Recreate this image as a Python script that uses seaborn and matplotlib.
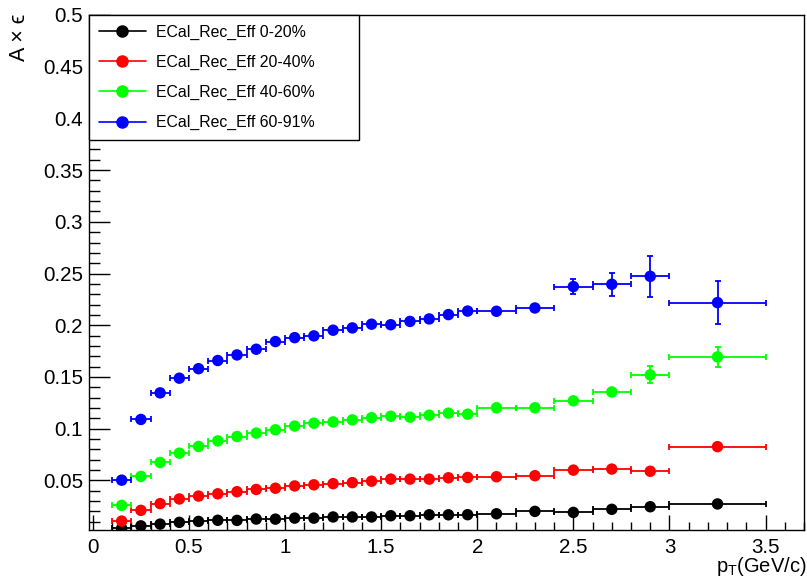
import matplotlib
matplotlib.use("Agg")
import matplotlib.pyplot as plt
from matplotlib.ticker import FixedLocator, FixedFormatter, MultipleLocator
from matplotlib.lines import Line2D
import pandas as pd
import seaborn as sns

# ---------------- data ----------------
pt_center = [0.15, 0.25, 0.35, 0.45, 0.55, 0.65, 0.75, 0.85, 0.95, 1.05,
             1.15, 1.25, 1.35, 1.45, 1.55, 1.65, 1.75, 1.85, 1.95,
             2.1, 2.3, 2.5, 2.7, 2.9, 3.25]
pt_halfwidth = [0.05, 0.05, 0.05, 0.05, 0.05, 0.05, 0.05, 0.05, 0.05, 0.05,
                0.05, 0.05, 0.05, 0.05, 0.05, 0.05, 0.05, 0.05, 0.05,
                0.1, 0.1, 0.1, 0.1, 0.1, 0.25]

eff_0_20 = [0.0036, 0.0060, 0.0077, 0.0094, 0.0103, 0.0114, 0.0113, 0.0126, 0.0125, 0.0135,
            0.0135, 0.0146, 0.0146, 0.0146, 0.0158, 0.0158, 0.0167, 0.0167, 0.0168,
            0.0177, 0.0200, 0.0190, 0.0220, 0.0245, 0.0272]
err_0_20 = [0.0005, 0.0005, 0.0005, 0.0005, 0.0005, 0.0005, 0.0005, 0.0005, 0.0005, 0.0005,
            0.0005, 0.0005, 0.0005, 0.0005, 0.0005, 0.0005, 0.0005, 0.0005, 0.0005,
            0.0006, 0.0008, 0.0010, 0.0012, 0.0015, 0.0020]

eff_20_40 = [0.0106, 0.0210, 0.0275, 0.0320, 0.0348, 0.0370, 0.0390, 0.0412, 0.0424, 0.0446,
             0.0457, 0.0468, 0.0478, 0.0492, 0.0512, 0.0512, 0.0512, 0.0525, 0.0528,
             0.0535, 0.0545, 0.0599, 0.0609, 0.0588, 0.0826]
err_20_40 = [0.0006, 0.0006, 0.0006, 0.0006, 0.0006, 0.0006, 0.0006, 0.0006, 0.0006, 0.0006,
             0.0006, 0.0006, 0.0006, 0.0006, 0.0006, 0.0006, 0.0006, 0.0006, 0.0006,
             0.0008, 0.0010, 0.0012, 0.0015, 0.0020, 0.0030]

eff_40_60 = [0.0258, 0.0538, 0.0673, 0.0763, 0.0828, 0.0882, 0.0924, 0.0957, 0.0989, 0.1025,
             0.1053, 0.1065, 0.1085, 0.1106, 0.1120, 0.1111, 0.1130, 0.1150, 0.1140,
             0.1202, 0.1202, 0.1269, 0.1355, 0.1520, 0.1694]
err_40_60 = [0.0008, 0.0008, 0.0008, 0.0008, 0.0008, 0.0008, 0.0008, 0.0008, 0.0008, 0.0008,
             0.0008, 0.0008, 0.0008, 0.0008, 0.0008, 0.0008, 0.0008, 0.0008, 0.0008,
             0.0015, 0.0015, 0.0020, 0.0035, 0.0082, 0.0098]

eff_60_91 = [0.0502, 0.1089, 0.1346, 0.1488, 0.1580, 0.1659, 0.1713, 0.1768, 0.1842, 0.1880,
             0.1897, 0.1952, 0.1974, 0.2010, 0.2005, 0.2037, 0.2061, 0.2103, 0.2137,
             0.2135, 0.2167, 0.2374, 0.2396, 0.2473, 0.2219]
err_60_91 = [0.0010, 0.0010, 0.0010, 0.0010, 0.0010, 0.0010, 0.0010, 0.0010, 0.0010, 0.0010,
             0.0010, 0.0010, 0.0010, 0.0010, 0.0010, 0.0010, 0.0010, 0.0010, 0.0010,
             0.0015, 0.0030, 0.0071, 0.0111, 0.0201, 0.0208]

series_labels = ["ECal_Rec_Eff 0-20%", "ECal_Rec_Eff 20-40%",
                 "ECal_Rec_Eff 40-60%", "ECal_Rec_Eff 60-91%"]
series_colors = ["#000000", "#ff0000", "#00ff00", "#0000ff"]

x_ticks = [0, 0.5, 1, 1.5, 2, 2.5, 3, 3.5]
x_tick_labels = ["0", "0.5", "1", "1.5", "2", "2.5", "3", "3.5"]
y_ticks = [0.05, 0.1, 0.15, 0.2, 0.25, 0.3, 0.35, 0.4, 0.45, 0.5]
y_tick_labels = ["0.05", "0.1", "0.15", "0.2", "0.25", "0.3", "0.35", "0.4", "0.45", "0.5"]

x_title = r"p$_{\mathregular{T}}$(GeV/c)"
y_title = "A \u00d7 \u03f5"

# ---------------- style ----------------
sns.set_theme(style="white")
plt.rcParams["font.family"] = ["Liberation Sans", "DejaVu Sans"]
plt.rcParams["mathtext.fontset"] = "custom"
plt.rcParams["mathtext.rm"] = "Liberation Sans"

effs = [eff_0_20, eff_20_40, eff_40_60, eff_60_91]
errs = [err_0_20, err_20_40, err_40_60, err_60_91]

frames = []
for lab, e in zip(series_labels, effs):
    frames.append(pd.DataFrame({"pt": pt_center, "eff": e, "series": lab}))
df = pd.concat(frames, ignore_index=True)

fig = plt.figure(figsize=(8.07, 5.77), dpi=100)
ax = fig.add_axes([89 / 807, 1 - 530 / 577, (804 - 89) / 807, (530 - 15) / 577])

for lab, c, e, er in zip(series_labels, series_colors, effs, errs):
    ax.errorbar(pt_center, e, xerr=pt_halfwidth, yerr=er, fmt="none",
                ecolor=c, elinewidth=1.3, capsize=2.3, capthick=1.3, zorder=2)

sns.scatterplot(data=df, x="pt", y="eff", hue="series", hue_order=series_labels,
                palette=dict(zip(series_labels, series_colors)), s=68,
                linewidth=0, legend=False, zorder=3, ax=ax)

ax.set_xlim(-0.02, 3.7)
ax.set_ylim(0.002, 0.5)
ax.set_xlabel("")
ax.set_ylabel("")

ax.xaxis.set_major_locator(FixedLocator(x_ticks))
ax.xaxis.set_major_formatter(FixedFormatter(x_tick_labels))
ax.xaxis.set_minor_locator(MultipleLocator(0.1))
ax.yaxis.set_major_locator(FixedLocator(y_ticks))
ax.yaxis.set_major_formatter(FixedFormatter(y_tick_labels))
ax.yaxis.set_minor_locator(MultipleLocator(0.01))

ax.tick_params(axis="x", which="major", direction="in", length=11, width=1,
               color="black", labelsize=14.8, pad=5.5, top=False, bottom=True)
ax.tick_params(axis="x", which="minor", direction="in", length=5.5, width=1,
               color="black", top=False, bottom=True)
ax.tick_params(axis="y", which="major", direction="in", length=15, width=1,
               color="black", labelsize=14.8, pad=4.3, left=True, right=False)
ax.tick_params(axis="y", which="minor", direction="in", length=8, width=1,
               color="black", left=True, right=False)
for lbl in ax.get_xticklabels() + ax.get_yticklabels():
    lbl.set_color("black")

for sp in ax.spines.values():
    sp.set_visible(True)
    sp.set_color("black")
    sp.set_linewidth(1.0)

handles = [Line2D([0], [0], color=c, marker="o", markersize=8, linewidth=1.2)
           for c in series_colors]
leg = ax.legend(handles, series_labels, loc="upper left",
                bbox_to_anchor=(0, 1, 270 / 715, 0), mode="expand",
                borderaxespad=0, fontsize=11.4, frameon=True, fancybox=False,
                edgecolor="black", framealpha=1, handlelength=3.0,
                handletextpad=0.6, labelspacing=0.95, borderpad=0.6)
leg.get_frame().set_linewidth(1.0)
for t in leg.get_texts():
    t.set_color("black")

fig.text(0.024, 1 - 14 / 577, y_title, rotation=90, ha="center", va="top",
         fontsize=15.5, color="black")
fig.text(0.9995, 5 / 577, x_title, ha="right", va="baseline",
         fontsize=14.5, color="black")

fig.savefig("out.png", dpi=100)
